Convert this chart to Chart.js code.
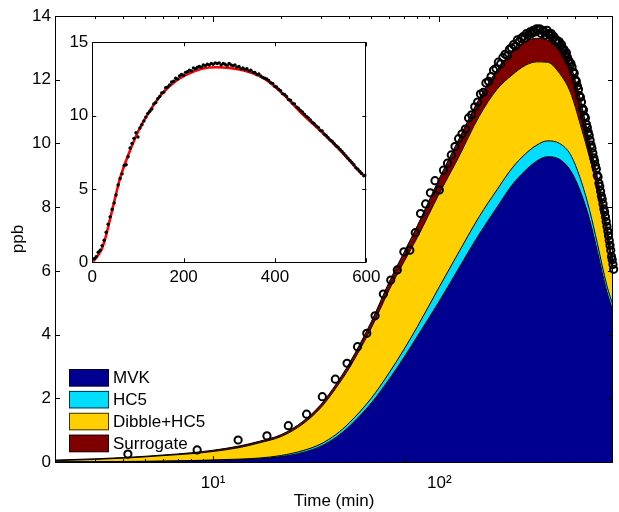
<!DOCTYPE html>
<html>
<head>
<meta charset="utf-8">
<style>
    html, body { margin: 0; padding: 0; background: #fff; }
    .chart-container { position: relative; width: 619px; height: 512px; }
    #insetChart { position: absolute; left: 60px; top: 28px; }
</style>
</head>
<body>
<div class="chart-container">
    <canvas id="mainChart" width="619" height="512"></canvas>
    <canvas id="insetChart" width="325" height="270"></canvas>
</div>

<script src="https://cdn.jsdelivr.net/npm/chart.js"></script>
<script>
    // model time grid (min) and stacked contributions (ppb)
    const modelTime = [2, 3, 4, 5, 6, 8, 10, 13, 16, 20, 25, 30, 35, 40, 50, 60, 70, 80, 100, 120, 150, 180, 210, 240, 270, 300, 340, 380, 420, 460, 500, 550, 590];
    const mvk = [0, 0.005, 0.01, 0.015, 0.02, 0.035, 0.05, 0.07, 0.1, 0.17, 0.3, 0.5, 0.78, 1.12, 1.85, 2.6, 3.3, 3.95, 5.05, 6.0, 7.15, 8.0, 8.7, 9.15, 9.45, 9.58, 9.5, 9.15, 8.5, 7.65, 6.6, 5.35, 4.68];
    const hc5 = [0.005, 0.005, 0.007, 0.008, 0.01, 0.01, 0.015, 0.02, 0.025, 0.035, 0.06, 0.07, 0.09, 0.11, 0.15, 0.2, 0.25, 0.3, 0.45, 0.5, 0.55, 0.55, 0.53, 0.52, 0.5, 0.5, 0.5, 0.5, 0.4, 0.3, 0.25, 0.2, 0.17];
    const dibble = [0.035, 0.07, 0.103, 0.137, 0.17, 0.215, 0.265, 0.36, 0.475, 0.595, 0.84, 1.14, 1.46, 1.72, 2.2, 2.6, 2.75, 2.8, 2.93, 2.98, 3.15, 3.15, 2.92, 2.78, 2.61, 2.47, 2.2, 1.95, 1.7, 1.65, 1.75, 1.55, 0.9];
    const surrogate = [0.02, 0.02, 0.02, 0.02, 0.02, 0.03, 0.04, 0.05, 0.05, 0.06, 0.08, 0.1, 0.12, 0.15, 0.2, 0.25, 0.3, 0.37, 0.47, 0.55, 0.55, 0.6, 0.7, 0.75, 0.74, 0.7, 0.8, 0.85, 0.8, 0.5, 0.35, 0.3, 0.25];

    // measured signal
    const obsTime = [4.2, 8.5, 12.9, 17.3, 21.5, 25.9, 30.4, 34.7, 39.1, 43.5, 47.8, 52.0, 56.6, 61.0, 65.2, 69.7, 74.1, 78.3, 82.6, 87.0,
        91.3, 95.7, 100.0, 104.3, 108.7, 113.0, 117.3, 121.7, 126.0, 130.4, 134.7, 139.0, 143.4, 147.7, 152.0, 156.4, 160.7, 165.1, 169.4, 173.7,
        178.1, 182.4, 186.7, 191.1, 195.4, 199.8, 204.1, 208.4, 212.8, 217.1, 221.4, 225.8, 230.1, 234.5, 238.8, 243.1, 247.5, 251.8, 256.1, 260.5,
        264.8, 269.2, 273.5, 277.8, 282.2, 286.5, 290.8, 295.2, 299.5, 303.9, 308.2, 312.5, 316.9, 321.2, 325.5, 329.9, 334.2, 338.6, 342.9, 347.2,
        351.6, 355.9, 360.2, 364.6, 368.9, 373.3, 377.6, 381.9, 386.3, 390.6, 394.9, 399.3, 403.6, 408.0, 412.3, 416.6, 421.0, 425.3, 429.6, 434.0,
        438.3, 442.7, 447.0, 451.3, 455.7, 460.0, 464.3, 468.7, 473.0, 477.4, 481.7, 486.0, 490.4, 494.7, 499.0, 503.4, 507.7, 512.1, 516.4, 520.7,
        525.1, 529.4, 533.7, 538.1, 542.4, 546.8, 551.1, 555.4, 559.8, 564.1, 568.4, 572.8, 577.1, 581.5, 585.8, 590.1, 594.5, 598.8];
    const obsPpb = [0.25, 0.38, 0.69, 0.82, 1.14, 1.5, 2.05, 2.6, 3.1, 3.62, 4.04, 4.59, 5.27, 5.71, 6.03, 6.6, 6.65, 7.2, 7.8, 8.1,
        8.45, 8.83, 8.54, 9.16, 9.38, 9.64, 9.9, 10.15, 10.3, 10.45, 10.8, 10.9, 11.15, 11.3, 11.55, 11.6, 11.9, 11.95, 12.1, 12.3,
        12.35, 12.55, 12.5, 12.7, 12.8, 12.75, 12.95, 13.0, 13.1, 13.05, 13.25, 13.2, 13.3, 13.35, 13.3, 13.45, 13.4, 13.5, 13.45, 13.55,
        13.5, 13.6, 13.55, 13.6, 13.45, 13.55, 13.5, 13.4, 13.55, 13.45, 13.4, 13.45, 13.3, 13.35, 13.2, 13.25, 13.15, 13.2, 13.05, 13.1,
        12.95, 12.95, 12.8, 12.85, 12.7, 12.6, 12.55, 12.5, 12.4, 12.25, 12.2, 12.0, 11.95, 11.8, 11.7, 11.5, 11.45, 11.3, 11.1, 11.05,
        10.85, 10.8, 10.6, 10.5, 10.35, 10.25, 10.1, 9.95, 9.85, 9.7, 9.55, 9.45, 9.3, 9.2, 9.0, 8.95, 8.75, 8.65, 8.5, 8.35,
        8.25, 8.1, 7.95, 7.85, 7.7, 7.55, 7.4, 7.25, 7.1, 6.95, 6.8, 6.65, 6.45, 6.35, 6.2, 6.05, 5.9, 5.95];

    // axes
    const xMajorTicks = [10, 100];
    const xTickLabels = ['10\u00B9', '10\u00B2'];
    const xMinorTicks = [3, 4, 5, 6, 7, 8, 9, 20, 30, 40, 50, 60, 70, 80, 90, 200, 300, 400, 500];
    const yTicks = [0, 2, 4, 6, 8, 10, 12, 14];
    const insetXTicks = [0, 200, 400, 600];
    const insetYTicks = [0, 5, 10, 15];

    const FONT = { family: "'Liberation Sans', Arial, Helvetica, sans-serif", size: 17 };
    Chart.defaults.font.family = FONT.family;
    Chart.defaults.font.size = FONT.size;
    Chart.defaults.color = '#000';

    const toPoints = (xs, ys) => xs.map((t, i) => ({ x: t, y: ys[i] }));

    // box round the axes with inward ticks on every side
    const axesBox = {
        id: 'axesBox',
        beforeDatasetsDraw(chart, args, opts) {
            if (!opts.fill) return;
            const a = chart.chartArea;
            chart.ctx.save();
            chart.ctx.fillStyle = opts.fill;
            chart.ctx.fillRect(a.left, a.top, a.right - a.left, a.bottom - a.top);
            chart.ctx.restore();
        },
        afterDatasetsDraw(chart, args, opts) {
            const { ctx, chartArea: a, scales: { x, y } } = chart;
            ctx.save();
            ctx.strokeStyle = '#000';
            ctx.lineWidth = 1;
            ctx.beginPath();
            (opts.xTicks || []).forEach(([v, len]) => {
                const px = Math.round(x.getPixelForValue(v)) + 0.5;
                ctx.moveTo(px, a.bottom); ctx.lineTo(px, a.bottom - len);
                ctx.moveTo(px, a.top); ctx.lineTo(px, a.top + len);
            });
            (opts.yTicks || []).forEach(([v, len]) => {
                const py = Math.round(y.getPixelForValue(v)) + 0.5;
                ctx.moveTo(a.left, py); ctx.lineTo(a.left + len, py);
                ctx.moveTo(a.right, py); ctx.lineTo(a.right - len, py);
            });
            ctx.stroke();
            ctx.strokeRect(Math.round(a.left) + 0.5, Math.round(a.top) + 0.5,
                Math.round(a.right - a.left) - 1, Math.round(a.bottom - a.top));
            ctx.restore();
        }
    };

    // legend drawn inside the axes, bottom left
    const areaLegend = {
        id: 'areaLegend',
        afterDraw(chart, args, opts) {
            const ctx = chart.ctx;
            ctx.save();
            ctx.font = FONT.size + 'px ' + FONT.family;
            ctx.textBaseline = 'middle';
            chart.data.datasets.filter(d => d.stack === 'model').forEach((d, i) => {
                const top = opts.top + i * opts.rowHeight;
                ctx.fillStyle = d.backgroundColor;
                ctx.fillRect(opts.left, top, opts.boxWidth, opts.boxHeight);
                ctx.strokeStyle = 'rgba(0,0,0,0.75)';
                ctx.lineWidth = 1;
                ctx.strokeRect(opts.left + 0.5, top + 0.5, opts.boxWidth - 1, opts.boxHeight - 1);
                ctx.fillStyle = '#000';
                ctx.fillText(d.label, opts.left + opts.boxWidth + 4, top + opts.boxHeight / 2 + 1);
            });
            ctx.restore();
        }
    };

    function areaSet(label, values, color, fill) {
        return {
            label: label,
            data: toPoints(modelTime, values),
            stack: 'model',
            backgroundColor: color,
            borderColor: '#000',
            borderWidth: 1,
            pointRadius: 0,
            fill: fill,
            cubicInterpolationMode: 'monotone'
        };
    }

    function initMainChart() {
        const ctx = document.getElementById('mainChart');
        return new Chart(ctx.getContext('2d'), {
            type: 'line',
            data: {
                datasets: [
                    {
                        label: 'Measured',
                        data: toPoints(obsTime, obsPpb),
                        stack: 'obs',
                        showLine: false,
                        pointRadius: 3.6,
                        pointBorderWidth: 2,
                        pointBorderColor: '#000',
                        pointBackgroundColor: 'rgba(0,0,0,0)',
                        clip: false
                    },
                    areaSet('MVK', mvk, '#000090', 'origin'),
                    areaSet('HC5', hc5, '#00DDFF', '-1'),
                    areaSet('Dibble+HC5', dibble, '#FFCF00', '-1'),
                    areaSet('Surrogate', surrogate, '#800000', '-1')
                ]
            },
            options: {
                responsive: false,
                animation: false,
                devicePixelRatio: 1,
                events: [],
                layout: { padding: { left: 0, top: 16, right: 1, bottom: 0 } },
                scales: {
                    x: {
                        type: 'logarithmic',
                        min: 2,
                        max: 586,
                        afterBuildTicks: s => { s.ticks = xMajorTicks.map(v => ({ value: v })); },
                        afterFit: s => { s.height = 50; },
                        ticks: {
                            callback: (v, i) => xTickLabels[i],
                            padding: 11,
                            maxRotation: 0,
                            autoSkip: false
                        },
                        grid: { display: false, drawTicks: false },
                        border: { display: false },
                        title: { display: true, text: 'Time (min)', padding: { top: 0, bottom: 0 } }
                    },
                    y: {
                        stacked: true,
                        min: 0,
                        max: 14,
                        afterBuildTicks: s => { s.ticks = yTicks.map(v => ({ value: v })); },
                        afterFit: s => { s.width = 55; },
                        ticks: { padding: 4 },
                        grid: { display: false, drawTicks: false },
                        border: { display: false },
                        title: { display: true, text: 'ppb', padding: { top: 8, bottom: 0 } }
                    }
                },
                plugins: {
                    legend: { display: false },
                    tooltip: { enabled: false },
                    axesBox: {
                        xTicks: xMajorTicks.map(v => [v, 6]).concat(xMinorTicks.map(v => [v, 3])),
                        yTicks: yTicks.map(v => [v, 5])
                    },
                    areaLegend: { left: 69, top: 369, rowHeight: 21.9, boxWidth: 40, boxHeight: 17.5 }
                }
            },
            plugins: [axesBox, areaLegend]
        });
    }

    function initInsetChart() {
        const modelTotal = modelTime.map((t, i) => mvk[i] + hc5[i] + dibble[i] + surrogate[i]);
        const ctx = document.getElementById('insetChart');
        return new Chart(ctx.getContext('2d'), {
            type: 'line',
            data: {
                datasets: [
                    {
                        label: 'Measured',
                        data: toPoints(obsTime, obsPpb),
                        showLine: false,
                        pointRadius: 1.7,
                        pointBorderWidth: 0,
                        pointBackgroundColor: '#000'
                    },
                    {
                        label: 'Model total',
                        data: toPoints(modelTime, modelTotal),
                        borderColor: '#FF0000',
                        borderWidth: 2.6,
                        pointRadius: 0,
                        fill: false,
                        cubicInterpolationMode: 'monotone'
                    }
                ]
            },
            options: {
                responsive: false,
                animation: false,
                devicePixelRatio: 1,
                events: [],
                layout: { padding: { left: 0, top: 14.3, right: 18.3, bottom: 0 } },
                scales: {
                    x: {
                        type: 'linear',
                        min: 0,
                        max: 600,
                        afterBuildTicks: s => { s.ticks = insetXTicks.map(v => ({ value: v })); },
                        afterFit: s => { s.height = 35.7; },
                        ticks: { padding: 4.5, maxRotation: 0, autoSkip: false },
                        grid: { display: false, drawTicks: false },
                        border: { display: false }
                    },
                    y: {
                        min: 0,
                        max: 15,
                        afterBuildTicks: s => { s.ticks = insetYTicks.map(v => ({ value: v })); },
                        afterFit: s => { s.width = 32.3; },
                        ticks: { padding: 4 },
                        grid: { display: false, drawTicks: false },
                        border: { display: false }
                    }
                },
                plugins: {
                    legend: { display: false },
                    tooltip: { enabled: false },
                    axesBox: {
                        fill: '#fff',
                        xTicks: insetXTicks.map(v => [v, 4]),
                        yTicks: insetYTicks.map(v => [v, 4])
                    }
                }
            },
            plugins: [axesBox]
        });
    }

    document.addEventListener('DOMContentLoaded', () => {
        initMainChart();
        initInsetChart();
    });
</script>
</body>
</html>
